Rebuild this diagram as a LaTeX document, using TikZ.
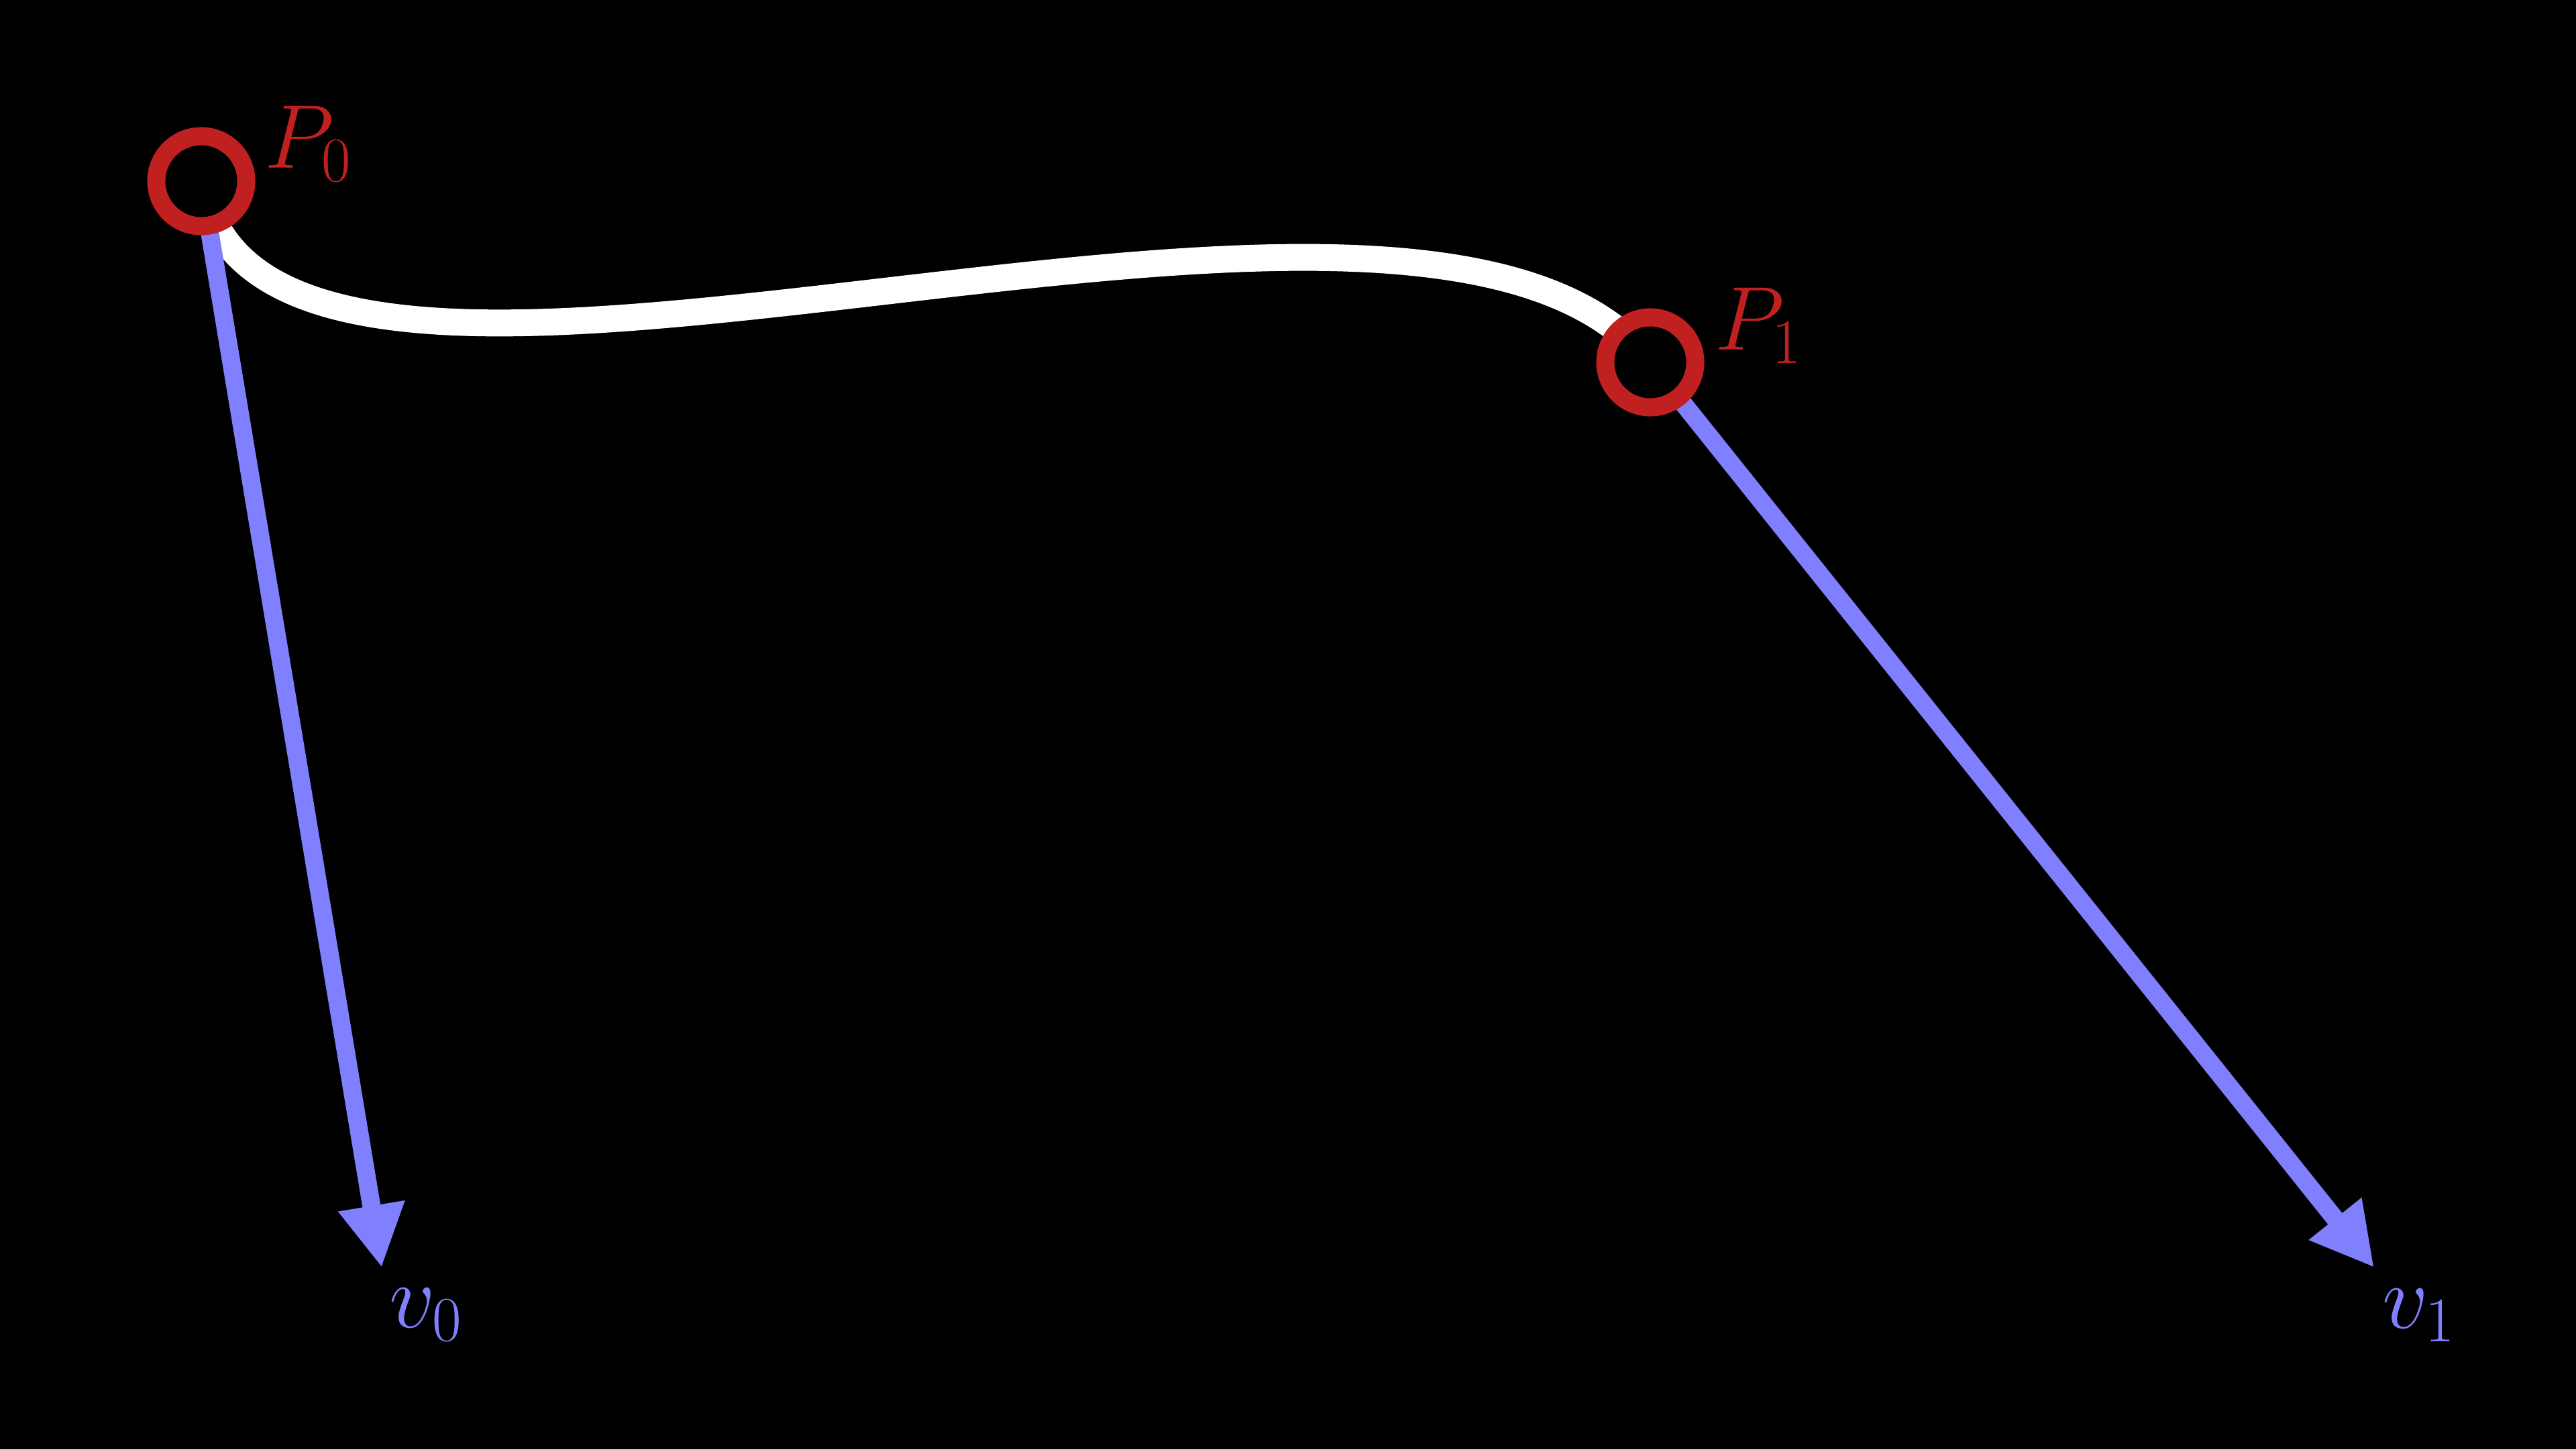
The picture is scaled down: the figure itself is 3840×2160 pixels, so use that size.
\RequirePackage{fix-cm}
\documentclass[tikz,border=0pt]{standalone}
\usepackage{amsmath}
\usepackage{tikz}
\usetikzlibrary{arrows.meta,calc,positioning}
\usepackage{xcolor}
\definecolor{hmred}{RGB}{192,32,32}
\definecolor{hmblue}{RGB}{128,128,255}
\tikzstyle{tangent} = [line width=0.27cm, color=hmblue, -{Triangle[length=0.93cm,width=0.94cm]}]
\tikzstyle{curve} = [line width=0.40cm, color=white]
\tikzstyle{ctrlpt} = [circle, draw=hmred, fill=black, line width=0.27cm, minimum size=1.34cm, inner sep=0pt]
\tikzstyle{lbl} = [anchor=base west, inner sep=0pt, font=\fontsize{38.4}{46}\selectfont]

\begin{document}
\begin{tikzpicture}[x=0.01cm, y=-0.01cm]
\fill[black] (0,0) rectangle (3840,2160);
\useasboundingbox (0,0) rectangle (3840,2160);

% Points and tangent ends
\coordinate (P0) at (300,270);
\coordinate (P1) at (2460,540);
\coordinate (v0) at (569,1889);
\coordinate (v1) at (3539,1889);

% Hermite curve
\draw[curve] (P0) .. controls ($(P0)!1/3!(v0)$) and ($(P1)!-1/3!(v1)$) .. (P1);

% Tangents
\draw[tangent] (P0) -- (v0);
\draw[tangent] (P1) -- (v1);

% Control points
\node[ctrlpt] (p0) at (P0) {};
\node[ctrlpt] (p1) at (P1) {};

% Labels
\node[lbl, text=hmred] (lp0) at (394,250) {$P_0$};
\node[lbl, text=hmred] (lp1) at (2556,521) {$P_1$};
\node[lbl, text=hmblue] (lv0) at (580,1978) {$v_0$};
\node[lbl, text=hmblue] (lv1) at (3551,1979) {$v_1$};
\end{tikzpicture}
\end{document}
